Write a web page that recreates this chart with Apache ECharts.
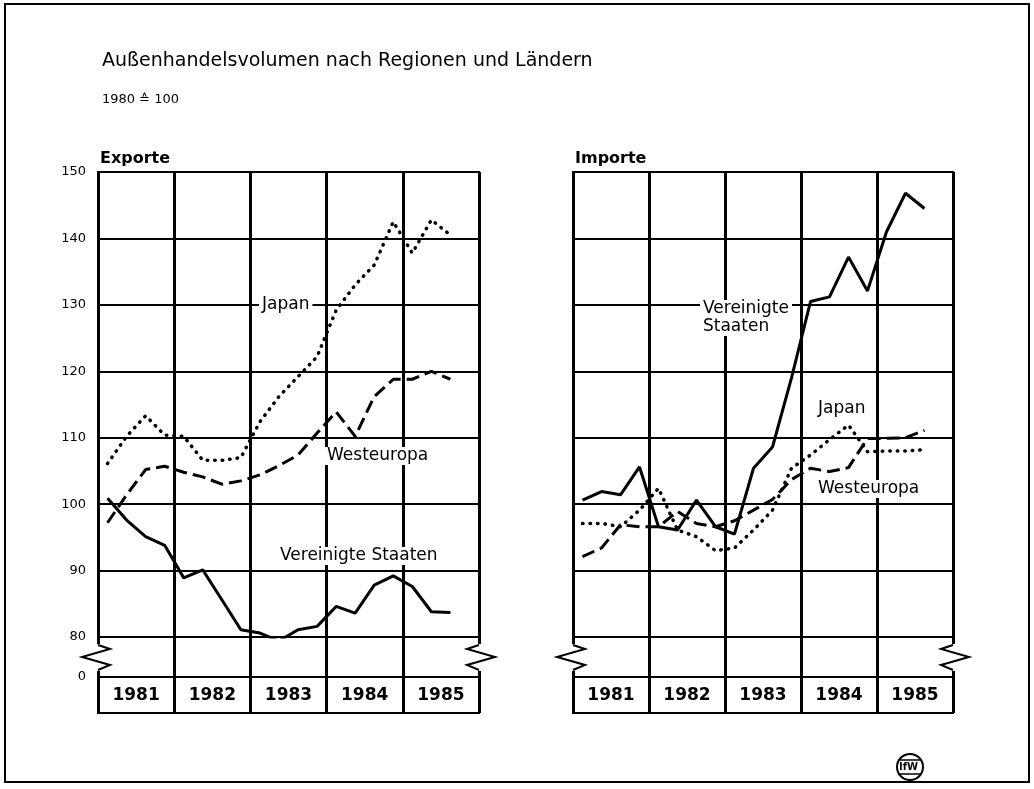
<!DOCTYPE html>
<html>
<head>
<meta charset="utf-8">
<script src="https://cdn.jsdelivr.net/npm/echarts@6/dist/echarts.min.js"></script>
<style>
  html, body { margin: 0; padding: 0; background: #fff; }
  #chart { width: 1034px; height: 789px; }
</style>
</head>
<body>
<div id="chart"></div>
<script>
// Jahre und Quartale (x-Achse)
const years = ['1981', '1982', '1983', '1984', '1985'];
const quarters = years.flatMap(y => ['I', 'II', 'III', 'IV'].map(q => q + '/' + y));
const yTicks = [80, 150];

// Exporte, 1980 = 100 (Quartalswerte 1981/I – 1985/III)
const exportUS = [100.9, 97.6, 95.1, 93.8, 88.9, 90.1, 85.6, 81.1, 80.6, 79.4, 81.1, 81.6, 84.6, 83.6, 87.8, 89.2, 87.6, 83.8, 83.7];
const exportJapan = [106.1, 110.2, 113.3, 110.4, 110.2, 106.6, 106.6, 107.0, 112.4, 116.2, 119.2, 122.2, 129.2, 133.0, 136.0, 142.5, 137.8, 142.8, 140.5];
const exportWE = [97.2, 101.4, 105.2, 105.7, 104.8, 104.1, 103.0, 103.5, 104.4, 105.8, 107.4, 110.7, 113.9, 110.2, 116.2, 118.8, 118.8, 120.0, 118.8];

// Importe
const importUS = [100.6, 101.9, 101.4, 105.6, 96.6, 96.1, 100.6, 96.6, 95.5, 105.4, 108.6, 119.0, 130.5, 131.2, 137.2, 132.1, 141.0, 146.8, 144.5];
const importJapan = [97.1, 97.1, 96.6, 99.1, 102.4, 96.1, 95.1, 93.0, 93.4, 96.1, 99.1, 105.4, 107.4, 109.7, 111.9, 107.9, 108.0, 108.0, 108.2];
const importWE = [92.1, 93.4, 96.9, 96.6, 96.6, 98.9, 97.1, 96.6, 97.5, 99.1, 100.7, 103.7, 105.4, 104.9, 105.5, 109.9, 109.9, 110.0, 111.1];

const FONT = '"DejaVu Sans", "Liberation Sans", sans-serif';
const chart = echarts.init(document.getElementById('chart'));

const grids = [], xAxes = [], yAxes = [], series = [], graphics = [];

function addPanel(left, width, showY, data) {
  const g = grids.length;
  // oberer Teil 80..150
  grids.push({ left: left, top: 172, width: width, height: 465, show: true, borderColor: '#000', borderWidth: 2 });
  // Achsenbruch 80..0
  grids.push({ left: left, top: 637, width: width, height: 40, show: false });
  // Jahreszeile
  grids.push({ left: left, top: 677, width: width, height: 36, show: true, borderColor: '#000', borderWidth: 2 });

  const quarterAxis = gi => ({
    gridIndex: gi, type: 'category', data: quarters, boundaryGap: true,
    axisLine: { show: false }, axisTick: { show: false }, axisLabel: { show: false },
    splitLine: { show: true, interval: i => i % 4 === 0, lineStyle: { color: '#000', width: 3 } }
  });
  xAxes.push(quarterAxis(g), quarterAxis(g + 1));
  xAxes.push({
    gridIndex: g + 2, type: 'category', data: years, boundaryGap: true,
    axisLine: { show: false }, axisTick: { show: false },
    axisLabel: { inside: true, margin: 9, color: '#000', fontSize: 17, fontWeight: 'bold', fontFamily: FONT },
    splitLine: { show: true, interval: 0, lineStyle: { color: '#000', width: 3 } }
  });

  yAxes.push({
    gridIndex: g, type: 'value', min: yTicks[0], max: yTicks[1], interval: 10,
    axisLine: { show: false }, axisTick: { show: false },
    axisLabel: { show: showY, margin: 12, color: '#000', fontSize: 13, fontFamily: FONT },
    splitLine: { lineStyle: { color: '#000', width: 2 } }
  });
  yAxes.push({
    gridIndex: g + 1, type: 'value', min: 0, max: 1, interval: 1,
    axisLine: { show: false }, axisTick: { show: false }, splitLine: { show: false },
    axisLabel: { show: showY, margin: 12, color: '#000', fontSize: 13, fontFamily: FONT, formatter: v => v === 0 ? '0' : '' }
  });
  yAxes.push({ gridIndex: g + 2, type: 'value', show: false });

  const styles = [
    { width: 3, type: 'solid' },
    { width: 3.5, type: [0.5, 7], cap: 'round' },
    { width: 3, type: [13, 6] }
  ];
  data.forEach((d, k) => {
    series.push({
      type: 'line', name: d.name, xAxisIndex: g, yAxisIndex: g, data: d.values,
      symbol: 'none', silent: true, z: 5,
      lineStyle: Object.assign({ color: '#000' }, styles[k])
    });
  });

  // Bruchzeichen links und rechts
  [[left, -1], [left + width, 1]].forEach(([x0, s]) => {
    graphics.push({ type: 'rect', shape: { x: x0 - 3, y: 644, width: 6, height: 27 }, style: { fill: '#fff' }, z: 10 });
    graphics.push({
      type: 'polyline', z: 11,
      shape: { points: [[x0, 645], [x0 - s * 12, 649], [x0 + s * 16, 657], [x0 - s * 12, 665], [x0, 670]] },
      style: { stroke: '#000', lineWidth: 2, fill: 'none' }
    });
  });
}

addPanel(98, 381, true, [
  { name: 'Vereinigte Staaten', values: exportUS },
  { name: 'Japan', values: exportJapan },
  { name: 'Westeuropa', values: exportWE }
]);
addPanel(573, 380, false, [
  { name: 'Vereinigte Staaten', values: importUS },
  { name: 'Japan', values: importJapan },
  { name: 'Westeuropa', values: importWE }
]);

const note = (text, left, cy) => ({
  type: 'text', left: left, top: cy - 10, z: 12,
  style: { text: text, font: '17px ' + FONT, fill: '#000', backgroundColor: '#fff', padding: [0, 3], lineHeight: 18 }
});
graphics.push(
  note('Japan', 259, 306),
  note('Westeuropa', 324, 457),
  note('Vereinigte Staaten', 277, 557),
  note('Vereinigte\nStaaten', 700, 310),
  note('Japan', 815, 410),
  note('Westeuropa', 815, 490)
);

// Rahmen und Logo
graphics.push(
  { type: 'rect', shape: { x: 5, y: 4, width: 1024, height: 778 }, style: { fill: 'none', stroke: '#000', lineWidth: 2 }, z: 1 },
  { type: 'circle', shape: { cx: 910, cy: 767, r: 13 }, style: { fill: '#fff', stroke: '#000', lineWidth: 2 }, z: 12 },
  { type: 'line', shape: { x1: 898, y1: 760, x2: 922, y2: 760 }, style: { stroke: '#000', lineWidth: 1.5 }, z: 12 },
  { type: 'line', shape: { x1: 898, y1: 774, x2: 922, y2: 774 }, style: { stroke: '#000', lineWidth: 1.5 }, z: 12 },
  { type: 'text', left: 899, top: 762, z: 13, style: { text: 'IfW', font: 'bold 10px ' + FONT, fill: '#000', backgroundColor: '#fff' } }
);

chart.setOption({
  animation: false,
  backgroundColor: '#fff',
  title: [
    { text: 'Außenhandelsvolumen nach Regionen und Ländern', left: 97, top: 47,
      textStyle: { fontFamily: FONT, fontSize: 19, fontWeight: 'normal', color: '#000' } },
    { text: '1980 ≙ 100', left: 97, top: 88,
      textStyle: { fontFamily: FONT, fontSize: 13, fontWeight: 'normal', color: '#000' } },
    { text: 'Exporte', left: 95, top: 146,
      textStyle: { fontFamily: FONT, fontSize: 16, fontWeight: 'bold', color: '#000' } },
    { text: 'Importe', left: 570, top: 146,
      textStyle: { fontFamily: FONT, fontSize: 16, fontWeight: 'bold', color: '#000' } }
  ],
  grid: grids,
  xAxis: xAxes,
  yAxis: yAxes,
  series: series,
  graphic: graphics
});
</script>
</body>
</html>
